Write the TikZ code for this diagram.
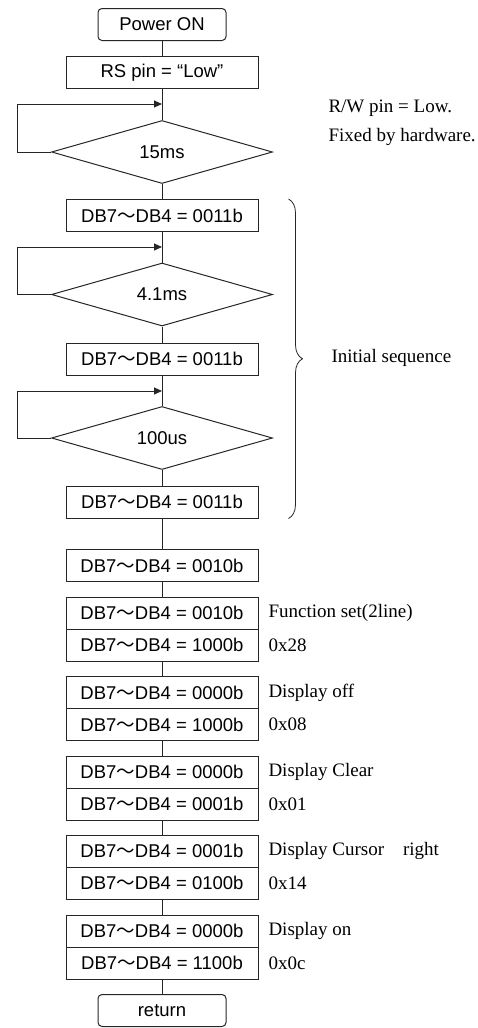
\documentclass[tikz,border=0pt]{standalone}
\usepackage{fontspec}
\setmainfont{Liberation Serif}
\newfontfamily\boxfont{Liberation Sans}
\newfontfamily\cjk{Noto Sans CJK JP}
\usetikzlibrary{arrows.meta, shapes.geometric, decorations.pathreplacing}

% one nibble written on the data bus
\newcommand\dbval[1]{DB7{\cjk ～}DB4 = #1b}

\begin{document}
\begin{tikzpicture}[
  x=1pt, y=-1pt, line width=1pt, draw=black!85,
  font=\boxfont\fontsize{18.5}{21}\selectfont,
  term/.style={rectangle, rounded corners=4pt, draw, align=center,
               minimum width=128pt, minimum height=32pt, inner sep=0pt},
  box/.style={rectangle, draw, align=center,
              minimum width=192pt, minimum height=32pt, inner sep=0pt},
  wait/.style={diamond, draw, aspect=3.5, minimum width=221pt,
               minimum height=63pt, inner sep=0pt},
  note/.style={anchor=west, inner sep=0pt,
               font=\rmfamily\fontsize{19}{21}\selectfont},
  arr/.style={-{Triangle[length=8pt, width=7pt]}}
]
\useasboundingbox (0,0) rectangle (477,1028);
% start and the 15ms power-up wait
\node[term] (power) at (162,24.5)  {Power ON};
\node[box]  (rs)    at (162,72.5)  {RS pin = “Low”};
\node[wait] (d15)   at (162,152)   {15ms};
\coordinate (j15) at (162,104);
% initial sequence: three times 0011b with waits between
\node[box]  (b1)    at (162,215.5) {\dbval{0011}};
\node[wait] (d41)   at (162,294.5) {4.1ms};
\coordinate (j41) at (162,247);
\node[box]  (b2)    at (162,359)   {\dbval{0011}};
\node[wait] (d100)  at (162,438)   {100us};
\coordinate (j100) at (162,391);
\node[box]  (b3)    at (162,502)   {\dbval{0011}};
% switch to 4-bit mode, then the command pairs
\node[box]  (b4)    at (162,565.5) {\dbval{0010}};
\node[box]  (p1a)   at (162,613)   {\dbval{0010}};
\node[box]  (p1b)   at (162,645)   {\dbval{1000}};
\node[box]  (p2a)   at (162,692.5) {\dbval{0000}};
\node[box]  (p2b)   at (162,724.5) {\dbval{1000}};
\node[box]  (p3a)   at (162,772)   {\dbval{0000}};
\node[box]  (p3b)   at (162,804)   {\dbval{0001}};
\node[box]  (p4a)   at (162,851)   {\dbval{0001}};
\node[box]  (p4b)   at (162,883)   {\dbval{0100}};
\node[box]  (p5a)   at (162,931)   {\dbval{0000}};
\node[box]  (p5b)   at (162,963)   {\dbval{1100}};
\node[term] (ret)   at (162,1010.5) {return};
% side notes
\node[note] (rw)    at (328,108) {R/W pin = Low.};
\node[note] (hw)    at (328,137) {Fixed by hardware.};
\node[note] (init)  at (331,358) {Initial sequence};
\node[note] (n1a)   at (268,613) {Function set(2line)};
\node[note] (n1b)   at (268,645) {0x28};
\node[note] (n2a)   at (268,692.5) {Display off};
\node[note] (n2b)   at (268,724.5) {0x08};
\node[note] (n3a)   at (268,772) {Display Clear};
\node[note] (n3b)   at (268,804) {0x01};
\node[note] (n4a)   at (268,851) {Display Cursor\quad right};
\node[note] (n4b)   at (268,883) {0x14};
\node[note] (n5a)   at (268,931) {Display on};
\node[note] (n5b)   at (268,963) {0x0c};
% main flow
\draw (power) -- (rs);
\draw (rs) -- (d15);
\draw (d15) -- (b1);
\draw (b1) -- (d41);
\draw (d41) -- (b2);
\draw (b2) -- (d100);
\draw (d100) -- (b3);
\draw (b3) -- (b4);
\draw (b4) -- (p1a);
\draw (p1b) -- (p2a);
\draw (p2b) -- (p3a);
\draw (p3b) -- (p4a);
\draw (p4b) -- (p5a);
\draw (p5b) -- (ret);
% wait loops
\draw[arr] (d15.west) -- ++(-34,0) |- (j15);
\draw[arr] (d41.west) -- ++(-34,0) |- (j41);
\draw[arr] (d100.west) -- ++(-34,0) |- (j100);
% brace over the initial sequence
\draw[line width=0.8pt, decorate, decoration={brace, amplitude=14pt}]
  ([xshift=30pt]b1.north east) -- ([xshift=30pt]b3.south east);
\end{tikzpicture}
\end{document}
